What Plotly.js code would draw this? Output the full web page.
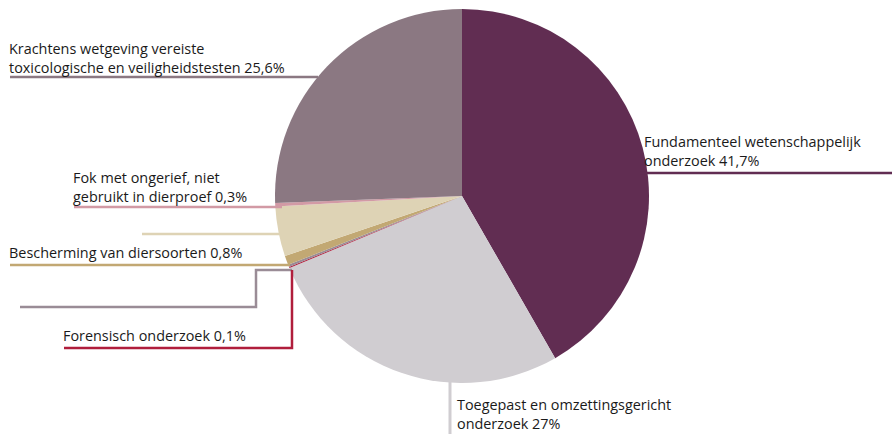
<!DOCTYPE html>
<html><head><meta charset="utf-8">
<script src="https://cdn.plot.ly/plotly-3.0.1.min.js"></script>
<style>html,body{margin:0;padding:0;background:#fff}</style>
</head><body>
<div id="chart" style="width:892px;height:434px"></div>
<script>
const categories = [
  "Fundamenteel wetenschappelijk onderzoek",
  "Toegepast en omzettingsgericht onderzoek",
  "Forensisch onderzoek",
  "Overig (grijs)",
  "Bescherming van diersoorten",
  "Overig (crème)",
  "Fok met ongerief, niet gebruikt in dierproef",
  "Krachtens wetgeving vereiste toxicologische en veiligheidstesten"
];
const values = [41.7, 27, 0.1, 0.2, 0.8, 4.3, 0.3, 25.6];
const colors = ["#612d52", "#d0cdd1", "#b01e3c", "#9a8c96", "#c2a873", "#ded3b5", "#d29aa5", "#8b7882"];
const labelTexts = [
  "Fundamenteel wetenschappelijk<br>onderzoek 41,7%",
  "Toegepast en omzettingsgericht<br>onderzoek 27%",
  "Forensisch onderzoek 0,1%",
  "",
  "Bescherming van diersoorten 0,8%",
  "",
  "Fok met ongerief, niet<br>gebruikt in dierproef 0,3%",
  "Krachtens wetgeving vereiste<br>toxicologische en veiligheidstesten 25,6%"
];

const W = 892, H = 434;
const px = x => x / W, py = y => 1 - y / H;
const cx = 462, cy = 196, r = 187;

const trace = {
  type: 'pie',
  values: values,
  labels: categories,
  marker: {colors: colors, line: {width: 0}},
  sort: false,
  direction: 'clockwise',
  rotation: 0,
  textinfo: 'none',
  hoverinfo: 'none',
  showlegend: false,
  domain: {x: [px(cx - r), px(cx + r)], y: [py(cy + r), py(cy - r)]}
};

function path(pts) {
  return pts.map((p, i) => (i ? 'L' : 'M') + px(p[0]).toFixed(5) + ',' + py(p[1]).toFixed(5)).join(' ');
}
const leaders = [
  {pts: [[10,77],[318,77]], c: colors[7], w: 2.5},
  {pts: [[74,207],[282,207]], c: colors[6], w: 2.5},
  {pts: [[142,234],[280,234]], c: colors[5], w: 2.5},
  {pts: [[10,265],[290,265]], c: colors[4], w: 2.5},
  {pts: [[20,307],[256,307],[256,270],[292,270]], c: colors[3], w: 2.5},
  {pts: [[64,348],[292,348],[292,270]], c: colors[2], w: 2.5},
  {pts: [[450,380],[450,434]], c: colors[1], w: 3},
  {pts: [[640,173],[892,173]], c: colors[0], w: 2.5}
];
const shapes = leaders.map(l => ({
  type: 'path', xref: 'paper', yref: 'paper', path: path(l.pts),
  line: {color: l.c, width: l.w}
}));

// [left x, center y of text block, label index]
const labelPos = [
  [643, 151, 0], [456, 414, 1], [62, 335, 2], null, [8, 252, 4], null, [72, 187, 6], [8, 58, 7]
];
const annotations = [];
labelPos.forEach(p => {
  if (!p) return;
  annotations.push({
    xref: 'paper', yref: 'paper', x: px(p[0]), y: py(p[1]),
    xanchor: 'left', yanchor: 'middle', align: 'left', showarrow: false,
    borderpad: 0,
    text: labelTexts[p[2]],
    font: {family: 'Open Sans, sans-serif', size: 14.4, color: '#1a1a1a'}
  });
});

const layout = {
  width: W, height: H,
  margin: {l: 0, r: 0, t: 0, b: 0},
  paper_bgcolor: '#ffffff',
  plot_bgcolor: '#ffffff',
  shapes: shapes,
  annotations: annotations
};
Plotly.newPlot('chart', [trace], layout, {displayModeBar: false, staticPlot: true});
</script>
</body></html>
